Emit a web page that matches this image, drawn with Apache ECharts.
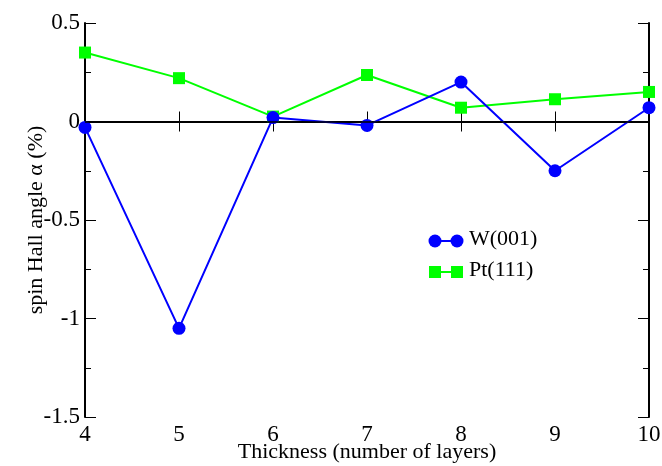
<!DOCTYPE html>
<html lang="en">
<head>
    <meta charset="UTF-8">
    <title>spin Hall angle</title>
    <script src="https://cdn.jsdelivr.net/npm/echarts@6/dist/echarts.min.js"></script>
    <style>
        html, body { margin: 0; padding: 0; background: #fff; }
        #main { width: 662px; height: 466px; }
    </style>
</head>
<body>
<div id="main"></div>
<script>
    // layers and values
    const layers = [4, 5, 6, 7, 8, 9, 10]
    const w001 = [-0.03, -1.05, 0.02, -0.02, 0.2, -0.25, 0.07]
    const pt111 = [0.35, 0.22, 0.025, 0.236, 0.07, 0.113, 0.15]
    const yTicks = [-1.5, -1, -0.5, 0, 0.5]

    const font = "'Liberation Serif', 'Times New Roman', serif"

    function pairs(xs, ys) {
        return xs.map((x, i) => [x, ys[i]])
    }

    function yLabel(v) {
        // same style as the figure: "0", "-1", "0.5"
        return yTicks.indexOf(v) >= 0 ? String(v) : ''
    }

    const myChart = echarts.init(document.getElementById('main'))

    const option = {
        backgroundColor: '#fff',
        animation: false,
        grid: { left: 85, right: 13, top: 23, bottom: 49, outerBoundsMode: 'none' },
        xAxis: [
            {
                type: 'value', min: 4, max: 10, interval: 1,
                name: 'Thickness (number of layers)',
                nameLocation: 'middle', nameGap: 24, nameMoveOverlap: false,
                nameTextStyle: { fontFamily: font, fontSize: 22, color: '#000' },
                axisLine: { show: true, lineStyle: { color: '#000', width: 2 } },
                axisTick: { show: true, inside: true, length: 10, lineStyle: { color: '#000', width: 1 } },
                axisLabel: { fontFamily: font, fontSize: 23, color: '#000', margin: 6 },
                splitLine: { show: false }
            },
            {
                type: 'value', min: 4, max: 10, interval: 1, position: 'top',
                axisLine: { show: true, lineStyle: { color: '#000', width: 2 } },
                axisTick: { show: true, inside: true, length: 10, lineStyle: { color: '#000', width: 1 } },
                axisLabel: { show: false },
                splitLine: { show: false }
            }
        ],
        yAxis: [
            {
                type: 'value', min: -1.5, max: 0.5, interval: 0.5,
                name: 'spin Hall angle α (%)',
                nameLocation: 'middle', nameGap: 38, nameMoveOverlap: false,
                nameTextStyle: { fontFamily: font, fontSize: 22, color: '#000' },
                axisLine: { show: true, lineStyle: { color: '#000', width: 2 } },
                axisTick: { show: true, inside: true, length: 11, lineStyle: { color: '#000', width: 1 } },
                minorTick: { show: true, splitNumber: 2, length: 6, lineStyle: { color: '#000', width: 1 } },
                axisLabel: { fontFamily: font, fontSize: 23, color: '#000', margin: 5, formatter: yLabel },
                splitLine: { show: false }
            },
            {
                type: 'value', min: -1.5, max: 0.5, interval: 0.5, position: 'right',
                axisLine: { show: true, lineStyle: { color: '#000', width: 2 } },
                axisTick: { show: true, inside: true, length: 11, lineStyle: { color: '#000', width: 1 } },
                minorTick: { show: true, splitNumber: 2, length: 6, lineStyle: { color: '#000', width: 1 } },
                axisLabel: { show: false },
                splitLine: { show: false }
            }
        ],
        series: [
            {
                name: 'W(001)',
                type: 'line',
                data: pairs(layers, w001),
                symbol: 'circle',
                symbolSize: 13,
                lineStyle: { color: '#0000ff', width: 2 },
                itemStyle: { color: '#0000ff' },
                z: 3,
                markLine: {
                    silent: true,
                    symbol: 'none',
                    label: { show: false },
                    lineStyle: { color: '#000', width: 1.5, type: 'solid' },
                    data: [{ yAxis: 0 }]
                }
            },
            {
                name: 'Pt(111)',
                type: 'line',
                data: pairs(layers, pt111),
                symbol: 'rect',
                symbolSize: 12,
                lineStyle: { color: '#00ff00', width: 2 },
                itemStyle: { color: '#00ff00' },
                z: 2
            }
        ],
        // legend drawn the way the figure shows it: marker, line, marker
        graphic: [
            { type: 'line', shape: { x1: 435, y1: 241, x2: 457, y2: 241 }, style: { stroke: '#0000ff', lineWidth: 2 } },
            { type: 'circle', shape: { cx: 435, cy: 241, r: 6.5 }, style: { fill: '#0000ff' } },
            { type: 'circle', shape: { cx: 457, cy: 241, r: 6.5 }, style: { fill: '#0000ff' } },
            { type: 'text', left: 469, top: 228, style: { text: 'W(001)', font: '22px ' + font, fill: '#000' } },
            { type: 'line', shape: { x1: 435, y1: 272, x2: 457, y2: 272 }, style: { stroke: '#00ff00', lineWidth: 2 } },
            { type: 'rect', shape: { x: 429, y: 266, width: 12, height: 12 }, style: { fill: '#00ff00' } },
            { type: 'rect', shape: { x: 451, y: 266, width: 12, height: 12 }, style: { fill: '#00ff00' } },
            { type: 'text', left: 469, top: 259, style: { text: 'Pt(111)', font: '22px ' + font, fill: '#000' } }
        ]
    }

    myChart.setOption(option)
</script>
</body>
</html>
